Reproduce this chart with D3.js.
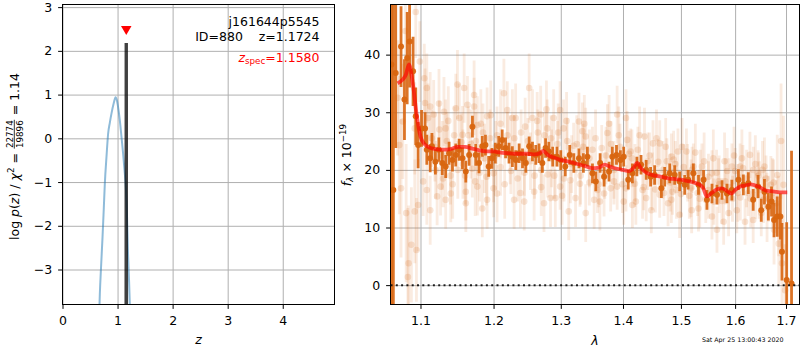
<!DOCTYPE html>
<html><head><meta charset="utf-8">
<script src="https://cdn.jsdelivr.net/npm/d3@7"></script>
<style>
body{margin:0;background:#fff}
svg{display:block}
text{font-family:"DejaVu Sans",sans-serif;white-space:pre}
</style>
</head><body>
<svg id="fig" width="800" height="350"></svg>
<script>
// ---- p(z) panel ----
const zTicks = [0, 1, 2, 3, 4];
const logpTicks = [-3, -2, -1, 0, 1, 2, 3];
const zGrid = [0.660,0.678,0.700,0.727,0.750,0.769,0.800,0.829,0.860,0.890,0.930,0.963,0.993,1.020,1.040,1.070,1.100,1.130,1.150,1.170,1.190,1.210,1.230];
const logpGrid = [-4.3,-3.56,-2.95,-2.26,-1.60,-1.03,-0.40,0.11,0.36,0.57,0.80,0.94,0.84,0.62,0.42,0.05,-0.34,-0.78,-1.11,-1.70,-2.64,-3.30,-4.10];
const zSpike = [1.155, 1.158, 1.161];
const logpSpike = [-9, 2.18, -9];
const zSpec = 1.158;
const zSpecMark = 2.5;
const infoLines = ["j161644p5545", "ID=880    z=1.1724"];
const zSpecText = "=1.1580";

// ---- spectrum panel ----
const lamTicks = [1.1, 1.2, 1.3, 1.4, 1.5, 1.6, 1.7];
const fluxTicks = [0, 10, 20, 30, 40];

const lamModel = [1.0704,1.077,1.081,1.085,1.090,1.095,1.100,1.105,1.110,1.120,1.130,1.140,1.150,1.160,1.170,1.180,1.190,1.200,1.210,1.220,1.230,1.240,1.250,1.260,1.268,1.273,1.280,1.290,1.300,1.310,1.320,1.330,1.340,1.350,1.360,1.370,1.380,1.390,1.400,1.410,1.418,1.424,1.430,1.440,1.450,1.460,1.470,1.480,1.490,1.500,1.510,1.520,1.530,1.540,1.547,1.555,1.565,1.575,1.585,1.593,1.600,1.610,1.620,1.630,1.645,1.660,1.670,1.680,1.690,1.7025];
const fluxModel = [35.0,35.7,36.5,38.3,35.0,29.5,25.8,24.5,24.0,23.6,23.5,23.6,24.0,24.0,23.7,23.4,23.2,23.2,23.0,22.9,22.8,22.8,22.8,22.7,22.9,23.3,22.6,22.1,21.7,21.5,21.2,20.9,20.6,20.3,20.4,20.9,20.5,20.2,20.0,19.8,20.4,21.2,20.3,19.5,19.1,18.9,18.7,18.5,18.4,18.3,18.1,17.9,17.6,16.9,15.4,15.9,16.6,16.8,16.3,15.9,16.5,17.1,17.3,17.5,17.1,16.4,16.3,16.2,16.1,16.1];

const lamBin = [1.0624,1.0650,1.0680,1.0748,1.0792,1.0827,1.0858,1.0903,1.0938,1.0969,1.1014,1.1060,1.1083,1.1128,1.1151,1.1197,1.1243,1.1289,1.1335,1.1381,1.1427,1.1472,1.1518,1.1564,1.1610,1.1656,1.1702,1.1748,1.1794,1.1840,1.1885,1.1931,1.1977,1.2025,1.2074,1.2124,1.2173,1.2223,1.2272,1.2322,1.2371,1.2421,1.2470,1.2520,1.2569,1.2619,1.2668,1.2718,1.2767,1.2817,1.2876,1.2941,1.3000,1.3070,1.3140,1.3204,1.3285,1.3355,1.3419,1.3500,1.3554,1.3624,1.3688,1.3769,1.3823,1.3892,1.3957,1.4012,1.4088,1.4158,1.4234,1.4304,1.4392,1.4468,1.4538,1.4655,1.4713,1.4801,1.4889,1.4977,1.5068,1.5130,1.5224,1.5317,1.5410,1.5472,1.5565,1.5658,1.5752,1.5845,1.5938,1.6063,1.6158,1.6253,1.6348,1.6443,1.6506,1.6569,1.6646,1.6709,1.6759,1.6823,1.6886,1.6918,1.7013,1.7112];
const fluxBin = [38.3,16.5,36.8,41.4,32.2,39.4,42.3,37.1,29.3,24.3,27.2,27.2,23.5,22.0,24.1,21.4,23.5,21.2,20.6,22.9,21.7,22.6,23.5,22.0,19.7,22.6,27.5,22.6,21.2,24.1,24.3,20.6,22.0,22.9,24.1,25.2,23.8,22.9,22.3,21.7,22.9,22.0,21.2,24.1,23.2,22.6,22.9,21.2,23.8,23.2,22.3,22.3,21.7,20.6,22.6,21.2,22.0,21.2,22.3,19.4,18.0,21.2,18.8,19.7,22.3,22.6,21.7,22.3,18.3,19.4,20.6,20.9,20.0,18.8,19.1,16.8,18.8,19.4,19.1,18.0,17.4,18.3,19.4,17.4,18.3,14.8,15.9,15.7,16.5,15.9,16.5,18.3,17.4,17.7,14.8,17.1,13.0,16.2,13.6,14.5,11.3,11.9,11.9,5.8,0.9,0.3];
const errBin = [60,45,13,7,7,8,8,6,5,4,3.2,2.8,2.6,2.4,2.3,2.2,2.1,2.1,2.0,2.0,2.0,2.0,1.9,1.9,1.9,1.9,1.9,1.9,1.8,1.8,1.8,1.8,1.8,1.8,1.8,1.8,1.8,1.8,1.8,1.7,1.7,1.7,1.7,1.7,1.7,1.7,1.7,1.7,1.7,1.7,1.7,1.7,1.7,1.7,1.7,1.7,1.7,1.7,1.7,1.7,1.7,1.7,1.7,1.7,1.7,1.7,1.7,1.7,1.7,1.7,1.7,1.7,1.7,1.7,1.7,1.7,1.7,1.7,1.7,1.7,1.7,1.7,1.7,1.7,1.7,1.7,1.7,1.7,1.7,1.7,1.8,1.8,1.8,1.9,1.9,2.0,2.0,2.2,2.4,2.6,3,3.5,4,5,10,23];

const lamRaw = [1.0704,1.0726,1.0748,1.0770,1.0805,1.0814,1.0845,1.0836,1.0881,1.0925,1.0938,1.0947,1.0925,1.0969,1.0991,1.1050,1.1083,1.1060,1.1083,1.1128,1.1128,1.1174,1.1220,1.1266,1.1312,1.1335,1.1335,1.1404,1.1472,1.1495,1.1564,1.1587,1.1610,1.1610,1.1633,1.1725,1.1725,1.1771,1.1771,1.1840,1.1908,1.1908,1.2000,1.2050,1.2149,1.2198,1.2272,1.2297,1.2446,1.2520,1.2569,1.2594,1.2693,1.2743,1.2792,1.2842,1.2891,1.2916,1.2990,1.2990,1.3043,1.3124,1.3231,1.3285,1.3339,1.3392,1.3392,1.3527,1.3581,1.3688,1.3742,1.3796,1.3903,1.3903,1.4012,1.4070,1.4129,1.4158,1.4216,1.4363,1.4392,1.4480,1.4509,1.4626,1.4626,1.4772,1.4830,1.4830,1.4947,1.4977,1.5099,1.5193,1.5224,1.5317,1.5379,1.5565,1.5565,1.5658,1.5689,1.5783,1.5814,1.5876,1.5938,1.6032,1.6095,1.6190,1.6285,1.6348,1.6443,1.6506,1.6569,1.6696,1.6759,1.6823,1.6854,1.6918,1.6949,1.6981,
  1.115,1.120,1.125,1.130,1.135,1.140,1.145,1.150,1.155,1.160,1.165,1.170,1.175,1.180,1.185,1.190,1.195,1.200,1.205,1.210,1.220,1.225,1.230,1.235,1.240,1.245,1.250,1.260,1.265,1.270,1.275,1.280,1.285,1.290,1.295,1.305,1.310,1.315,1.320,1.330,1.335,1.345,1.350,1.360,1.365,1.370,1.380,1.385,1.395,1.405,1.410,1.420,1.425,1.435,1.445,1.455,1.460,1.470,1.475,1.485,1.490,1.500,1.505,1.515,1.520,1.530,1.535,1.545,1.550,1.560,1.565,1.575,1.585,1.595,1.600,1.610,1.615,1.625,1.635,1.640,1.645,1.655,1.660,1.665,1.675,1.680,
  1.1035,1.1100,1.1190,1.1245,1.1290,1.1370,1.1430,1.1520,1.1570,1.1680,1.1740,1.1820,1.1870,1.1960,1.2030,1.2100,1.2160,1.2240,1.2320,1.2390,1.2460,1.2540,1.2640,1.2700,1.2780,1.2860,1.2960,1.3020,1.3090,1.3170,1.3250,1.3310,1.3370,1.3450,1.3550,1.3620,1.3720,1.3770,1.3850,1.3930,1.3990,1.4050,1.4150,1.4200,1.4280,1.4330,1.4420,1.4500,1.4570,1.4680,1.4730,1.4810,1.4870,1.4920,1.5020,1.5120,1.5180,1.5260,1.5340,1.5420,1.5500,1.5590,1.5700,1.5800,1.5880,1.5980,1.6050,1.6130,1.6220,1.6300,1.6390,1.6470,1.6530,1.6620,1.6730,1.6850,1.6900];
const fluxRaw = [32.5,24.3,16.8,28.4,44.1,12.5,3.8,1.4,7.0,27.2,47.4,6.1,12.8,13.9,38.8,35.9,34.2,31.6,16.5,31.0,13.0,29.6,15.4,17.1,30.1,27.2,14.8,15.9,30.7,34.8,26.1,34.2,14.2,16.2,31.3,33.0,31.0,27.8,17.1,13.3,29.3,14.8,16.8,15.9,33.3,30.4,29.0,14.8,14.5,34.2,29.0,16.2,29.6,14.2,27.2,15.1,29.0,15.1,30.4,17.1,27.2,12.8,15.1,28.4,26.7,25.8,12.5,14.8,16.5,15.9,26.4,16.8,29.6,17.1,14.5,25.2,23.2,13.9,14.5,25.8,15.1,13.0,24.6,24.6,15.7,14.2,22.3,14.8,23.2,12.2,23.2,13.0,20.6,13.3,20.6,19.4,11.9,9.6,18.0,11.0,18.0,12.5,20.6,13.0,20.6,11.0,22.6,11.3,19.4,12.5,20.6,17.4,9.6,19.1,7.2,3.8,17.4,-0.9,
  25.5,20.0,27.0,18.5,25.0,19.0,26.0,20.0,24.8,19.0,26.0,20.2,25.0,19.5,26.5,18.8,25.5,19.4,26.0,20.5,26.0,19.8,25.5,18.5,26.5,19.5,25.0,19.0,26.5,20.0,26.0,19.2,25.5,19.0,24.5,18.5,25.0,18.2,24.2,17.6,24.0,17.8,23.5,17.5,23.8,19.0,24.5,18.0,24.0,16.8,22.8,17.6,23.5,17.0,22.5,16.6,21.4,16.0,21.5,16.2,21.0,15.8,20.5,15.5,20.0,16.0,19.5,14.8,18.8,14.5,19.5,14.6,19.8,15.0,19.8,15.2,20.3,16.0,20.0,15.5,19.0,14.8,18.5,15.0,17.8,14.2,
  18.0,29.0,24.0,31.5,22.5,28.5,17.5,29.0,21.0,24.5,18.0,28.0,22.0,29.5,22.5,28.0,17.5,23.5,29.0,16.0,27.5,21.5,28.5,17.0,30.5,22.0,26.5,15.5,28.5,21.0,24.5,19.0,28.0,22.0,25.5,14.5,22.5,28.0,20.0,26.0,17.5,29.0,22.0,19.5,26.0,16.5,21.5,18.0,25.5,20.0,24.0,17.8,21.8,16.5,24.0,19.5,16.8,23.0,15.0,21.5,16.5,22.0,17.5,21.5,17.0,22.5,16.0,22.0,18.5,15.0,21.0,16.5,20.0,13.5,16.0,12.0,25.0];
const errRaw = [10,12,12,10,8,12,10,12,10,8,8,9,9,8,7,6,6,6,6,6,6,6,5,5,6,5,5,5,6,6,5,6,5,5,5,6,5,5,5,5,5,5,5,5,6,5,5,5,5,6,5,5,5,5,5,5,5,5,5,4,5,5,5,5,5,5,5,5,4,4,5,4,5,4,4,5,4,4,4,5,4,4,4,4,4,4,4,4,4,4,4,4,4,4,4,4,4,4,4,4,4,4,4,4,4,4,4,4,4,4,5,5,6,7,7,8,12,8,
  5,5,5,5,5,5,5,5,5,5,5,5,5,5,5,5,5,5,5,5,4,4,4,4,4,4,4,4,4,4,4,4,4,4,4,4,4,4,4,4,4,4,4,4,4,4,4,4,4,4,4,4,4,4,4,4,4,4,4,4,4,4,4,4,4,4,4,4,4,4,4,4,4,4,4,4,4,4,4,4,4,4,4,4,4,4,
  6,6,6,6,6,6,6,6,6,6,6,6,6,6,6,6,6,6,6,6,5,5,5,5,5,5,5,5,5,5,5,5,5,5,5,5,5,5,5,5,5,5,5,5,5,5,5,5,5,5,5,5,5,5,5,5,5,5,5,5,5,5,5,5,5,5,5,5,5,5,5,5,5,6,6,7,10];
const stampText = "Sat Apr 25 13:00:43 2020";

// ---- drawing ----
const svg = d3.select("#fig");
const FS = 12.5;
const GRID = "#b0b0b0";
const ORANGE = "#d8650f";
const minus = d => d < 0 ? "\u2212" + Math.abs(d) : String(d);

function frame(box, id) {
  svg.append("clipPath").attr("id", id).append("rect")
    .attr("x", box.x0).attr("y", box.y0).attr("width", box.x1 - box.x0).attr("height", box.y1 - box.y0);
}
// grid lines drawn as full-length ticks of auxiliary axes
function grid(box, xs, xTicks, ys, yTicks) {
  const gx = svg.append("g").attr("transform", `translate(0,${box.y1})`)
    .call(d3.axisBottom(xs).tickValues(xTicks).tickFormat("").tickSizeInner(-(box.y1 - box.y0)).tickSizeOuter(0));
  const gy = svg.append("g").attr("transform", `translate(${box.x0},0)`)
    .call(d3.axisLeft(ys).tickValues(yTicks).tickFormat("").tickSizeInner(-(box.x1 - box.x0)).tickSizeOuter(0));
  [gx, gy].forEach(a => {
    a.select(".domain").remove();
    a.selectAll("text").remove();
    a.selectAll("line").attr("stroke", GRID).attr("stroke-width", 1);
  });
}
function axes(box, xs, xTicks, xFmt, ys, yTicks, yFmt) {
  const ax = svg.append("g").attr("transform", `translate(0,${box.y1})`)
    .call(d3.axisBottom(xs).tickValues(xTicks).tickFormat(xFmt).tickSize(4.4).tickSizeOuter(0).tickPadding(7));
  const ay = svg.append("g").attr("transform", `translate(${box.x0},0)`)
    .call(d3.axisLeft(ys).tickValues(yTicks).tickFormat(yFmt).tickSize(4.4).tickSizeOuter(0).tickPadding(6));
  [ax, ay].forEach(a => {
    a.select(".domain").remove();
    a.selectAll("line").attr("stroke", "#000").attr("stroke-width", 1);
    a.selectAll("text").attr("font-size", FS).attr("fill", "#000").attr("font-family", "DejaVu Sans");
  });
  svg.append("rect").attr("x", box.x0).attr("y", box.y0).attr("width", box.x1 - box.x0).attr("height", box.y1 - box.y0)
    .attr("fill", "none").attr("stroke", "#000").attr("stroke-width", 1);
}

// left panel
const PL = {x0: 62.5, x1: 334.5, y0: 4.5, y1: 304.5};
const xz = d3.scaleLinear().domain([0, 4.94]).range([PL.x0, PL.x1]);
const yp = d3.scaleLinear().domain([-3.8, 3.06]).range([PL.y1, PL.y0]);
frame(PL, "clipL");
grid(PL, xz, zTicks, yp, logpTicks);
const gL = svg.append("g").attr("clip-path", "url(#clipL)");
gL.append("path").datum(d3.zip(zGrid, logpGrid))
  .attr("d", d3.line().x(d => xz(d[0])).y(d => yp(d[1])).curve(d3.curveMonotoneX))
  .attr("fill", "none").attr("stroke", "#1f77b4").attr("stroke-opacity", 0.5).attr("stroke-width", 2);
gL.append("path").datum(d3.zip(zSpike, logpSpike)).attr("d", d3.line().x(d => xz(d[0])).y(d => yp(d[1])))
  .attr("fill", "none").attr("stroke", "#000").attr("stroke-opacity", 0.75).attr("stroke-width", 3.4)
  .attr("stroke-linejoin", "miter");
svg.append("path").attr("d", d3.symbol(d3.symbolTriangle, 48)())
  .attr("transform", `translate(${xz(zSpec)},${yp(zSpecMark)}) rotate(180)`).attr("fill", "red");
axes(PL, xz, zTicks, d3.format("d"), yp, logpTicks, minus);

infoLines.forEach((s, i) => svg.append("text").attr("x", 319.5).attr("y", 26 + 15 * i)
  .attr("text-anchor", "end").attr("font-size", FS).attr("fill", "#000").text(s));
const tz = svg.append("text").attr("x", 319.5).attr("y", 61.5).attr("text-anchor", "end")
  .attr("font-size", FS).attr("fill", "red");
tz.append("tspan").attr("font-style", "italic").text("z");
tz.append("tspan").attr("font-size", FS * 0.7).attr("dy", 2.5).text("spec");
tz.append("tspan").attr("dy", -2.5).text(zSpecText);

svg.append("text").attr("x", (PL.x0 + PL.x1) / 2).attr("y", 344).attr("text-anchor", "middle")
  .attr("font-size", FS).attr("font-style", "italic").text("z");

// left y label with the chi-square fraction
{
  const g = svg.append("g");
  const t1 = g.append("text").attr("font-size", FS).attr("x", 0).attr("y", 0);
  t1.append("tspan").text("log ");
  t1.append("tspan").attr("font-style", "italic").text("p");
  t1.append("tspan").text("(");
  t1.append("tspan").attr("font-style", "italic").text("z");
  t1.append("tspan").text(") / ");
  t1.append("tspan").attr("font-style", "italic").text("\u03c7");
  t1.append("tspan").attr("font-size", FS * 0.7).attr("dy", -5).text("2");
  t1.append("tspan").attr("dy", 5).text(" = ");
  const w1 = t1.node().getComputedTextLength();
  const fs2 = FS * 0.7;
  const num = g.append("text").attr("font-size", fs2).attr("x", w1 + 1).attr("y", -5.6).text("22774");
  const den = g.append("text").attr("font-size", fs2).attr("x", w1 + 1).attr("y", 4.2).text("19896");
  const wf = Math.max(num.node().getComputedTextLength(), den.node().getComputedTextLength());
  num.attr("x", w1 + 1 + (wf - num.node().getComputedTextLength()) / 2);
  g.append("line").attr("x1", w1 + 0.5).attr("x2", w1 + wf + 1.5).attr("y1", -4.2).attr("y2", -4.2)
    .attr("stroke", "#000").attr("stroke-width", 0.8);
  const t3 = g.append("text").attr("font-size", FS).attr("x", w1 + wf + 2).attr("y", 0).text(" = 1.14");
  const total = w1 + wf + 2 + t3.node().getComputedTextLength();
  g.attr("transform", `translate(18.5,${156.5 + total / 2}) rotate(-90)`);
}

// right panel
const PR = {x0: 390.5, x1: 799.5, y0: 4.5, y1: 304.5};
const xl = d3.scaleLog().domain([1.0614, 1.7275]).range([PR.x0, PR.x1]);
const yf = d3.scaleLinear().domain([-3.36, 48.7]).range([PR.y1, PR.y0]);
frame(PR, "clipR");
grid(PR, xl, lamTicks, yf, fluxTicks);
const gR = svg.append("g").attr("clip-path", "url(#clipR)");

// unbinned pixels
const raw = d3.range(lamRaw.length).map(i => ({l: lamRaw[i], f: fluxRaw[i], e: errRaw[i]}));
gR.append("g").selectAll("line").data(raw).join("line")
  .attr("x1", d => xl(d.l)).attr("x2", d => xl(d.l)).attr("y1", d => yf(d.f - d.e)).attr("y2", d => yf(d.f + d.e))
  .attr("stroke", ORANGE).attr("stroke-opacity", 0.13).attr("stroke-width", 2.8);
gR.append("g").selectAll("circle").data(raw).join("circle")
  .attr("cx", d => xl(d.l)).attr("cy", d => yf(d.f)).attr("r", 3.3)
  .attr("fill", ORANGE).attr("fill-opacity", 0.17);

// binned spectrum
const bin = d3.range(lamBin.length).map(i => ({l: lamBin[i], f: fluxBin[i], e: errBin[i]}));
gR.append("g").selectAll("line").data(bin).join("line")
  .attr("x1", d => xl(d.l)).attr("x2", d => xl(d.l)).attr("y1", d => yf(d.f - d.e)).attr("y2", d => yf(d.f + d.e))
  .attr("stroke", ORANGE).attr("stroke-opacity", 0.9).attr("stroke-width", 2.8);
gR.append("g").selectAll("circle").data(bin).join("circle")
  .attr("cx", d => xl(d.l)).attr("cy", d => yf(d.f)).attr("r", 3)
  .attr("fill", ORANGE).attr("fill-opacity", 0.95);

// model
gR.append("path").datum(d3.zip(lamModel, fluxModel))
  .attr("d", d3.line().x(d => xl(d[0])).y(d => yf(d[1])).curve(d3.curveMonotoneX))
  .attr("fill", "none").attr("stroke", "red").attr("stroke-opacity", 0.65).attr("stroke-width", 3.8)
  .attr("stroke-linejoin", "round");

// zero level
gR.append("line").attr("x1", PR.x0).attr("x2", PR.x1).attr("y1", yf(0)).attr("y2", yf(0))
  .attr("stroke", "#000").attr("stroke-width", 2).attr("stroke-dasharray", "2,3.3").attr("stroke-opacity", 0.85);

axes(PR, xl, lamTicks, d3.format(".1f"), yf, fluxTicks, d3.format("d"));

svg.append("text").attr("x", (PR.x0 + PR.x1) / 2).attr("y", 345).attr("text-anchor", "middle")
  .attr("font-size", FS).attr("font-style", "italic").text("\u03bb");
{
  const t = svg.append("text").attr("transform", "translate(350.5,155) rotate(-90)")
    .attr("text-anchor", "middle").attr("font-size", FS);
  t.append("tspan").attr("font-style", "italic").text("f");
  t.append("tspan").attr("font-size", FS * 0.7).attr("font-style", "italic").attr("dy", 2.5).text("\u03bb");
  t.append("tspan").attr("dy", -2.5).text(" \u00d7 10");
  t.append("tspan").attr("font-size", FS * 0.7).attr("dy", -5).text("\u221219");
}
svg.append("text").attr("x", 742.7).attr("y", 341.5).attr("text-anchor", "middle")
  .attr("font-size", 6.3).attr("fill", "#000").text(stampText);
</script>
</body></html>
